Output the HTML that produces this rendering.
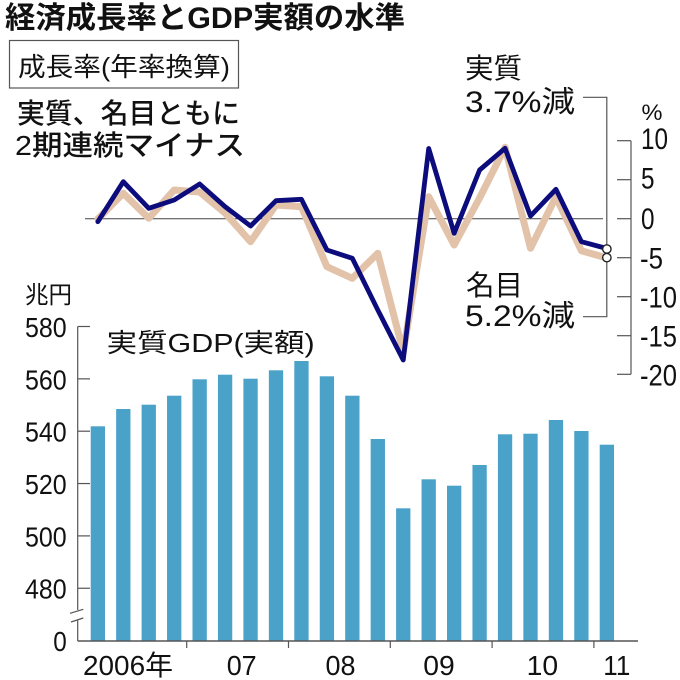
<!DOCTYPE html>
<html><head><meta charset="utf-8"><style>
html,body{margin:0;padding:0;background:#fff;}
svg{display:block;}
text{font-family:"Liberation Sans","Noto Sans CJK JP",sans-serif;fill:#111;}
</style></head><body>
<svg width="680" height="680" viewBox="0 0 680 680" xmlns="http://www.w3.org/2000/svg">
<rect width="680" height="680" fill="#fff"/>
<!-- Title -->
<text x="5" y="28" font-size="30" font-weight="bold" textLength="400" lengthAdjust="spacingAndGlyphs">経済成長率とGDP実額の水準</text>
<!-- box -->
<rect x="9.5" y="40.5" width="229" height="47.5" fill="none" stroke="#555" stroke-width="1.2"/>
<text x="18" y="76" font-size="26" fill="#222" textLength="212" lengthAdjust="spacingAndGlyphs">成長率(年率換算)</text>
<text x="17" y="123" font-size="28" font-weight="500" textLength="223" lengthAdjust="spacingAndGlyphs">実質、名目ともに</text>
<text x="15" y="155" font-size="28" font-weight="500" textLength="230" lengthAdjust="spacingAndGlyphs">2期連続マイナス</text>

<!-- right labels -->
<text x="465" y="78" font-size="28" textLength="57" lengthAdjust="spacingAndGlyphs">実質</text>
<text x="465" y="112" font-size="30" textLength="110" lengthAdjust="spacingAndGlyphs">3.7%減</text>
<text x="466" y="295" font-size="28" textLength="57" lengthAdjust="spacingAndGlyphs">名目</text>
<text x="465" y="326" font-size="30" textLength="110" lengthAdjust="spacingAndGlyphs">5.2%減</text>
<!-- bracket -->
<polyline points="583,97.3 606.8,97.3 606.8,316.7 583,316.7" fill="none" stroke="#555" stroke-width="1.2"/>

<!-- zero line -->
<line x1="85" y1="218.7" x2="603" y2="218.7" stroke="#444" stroke-width="1"/>

<!-- right axis -->
<g stroke="#555" stroke-width="1.2">
<line x1="631" y1="140.7" x2="631" y2="374.3"/>
<line x1="617" y1="140.7" x2="631" y2="140.7"/>
<line x1="617" y1="179.7" x2="631" y2="179.7"/>
<line x1="617" y1="218.7" x2="631" y2="218.7"/>
<line x1="617" y1="257.7" x2="631" y2="257.7"/>
<line x1="617" y1="296.7" x2="631" y2="296.7"/>
<line x1="617" y1="335.7" x2="631" y2="335.7"/>
<line x1="617" y1="374.3" x2="631" y2="374.3"/>
</g>
<text x="641.5" y="120" font-size="22" textLength="21" lengthAdjust="spacingAndGlyphs">%</text>
<g font-size="30">
<text x="641" y="149" textLength="27" lengthAdjust="spacingAndGlyphs">10</text>
<text x="641" y="188.5" textLength="13.5" lengthAdjust="spacingAndGlyphs">5</text>
<text x="641" y="229" textLength="13.5" lengthAdjust="spacingAndGlyphs">0</text>
<text x="640" y="268.5" textLength="23" lengthAdjust="spacingAndGlyphs">-5</text>
<text x="640" y="307.5" textLength="37" lengthAdjust="spacingAndGlyphs">-10</text>
<text x="640" y="346.5" textLength="37" lengthAdjust="spacingAndGlyphs">-15</text>
<text x="640" y="385.5" textLength="37" lengthAdjust="spacingAndGlyphs">-20</text>
</g>

<!-- lines -->
<polyline fill="none" stroke="#e2c3aa" stroke-width="7" stroke-linejoin="round" stroke-linecap="round"
points="97.85,219 123.3,193.3 148.75,218.3 174.2,190 199.65,192 225.1,213 250.55,241.7 276,205 301.45,206.7 326.9,266.7 352.35,278.3 377.8,253.3 403.25,352 428.7,196.7 454.15,245 479.6,198 505.05,147.3 530.5,248.3 555.95,196.7 581.4,250.7 606.85,258"/>
<polyline fill="none" stroke="#0c0c7c" stroke-width="4.8" stroke-linejoin="round" stroke-linecap="round"
points="97.85,221.7 123.3,181.7 148.75,208.3 174.2,200 199.65,184 225.1,206.7 250.55,226 276,200.7 301.45,199.3 326.9,250 352.35,258.3 377.8,310 403.25,360 428.7,148.5 454.15,233.3 479.6,170 505.05,148.3 530.5,216 555.95,189.3 581.4,241.7 606.85,248.5"/>
<circle cx="606.85" cy="249" r="4.2" fill="#fff" stroke="#222" stroke-width="1.4"/>
<circle cx="606.85" cy="257.6" r="4.2" fill="#fff" stroke="#222" stroke-width="1.4"/>

<!-- bar chart labels -->
<text x="25" y="303" font-size="24" textLength="47" lengthAdjust="spacingAndGlyphs">兆円</text>
<text x="106.7" y="352" font-size="26" fill="#222" textLength="208" lengthAdjust="spacingAndGlyphs">実質GDP(実額)</text>

<g font-size="28">
<text x="25" y="337" textLength="41.7" lengthAdjust="spacingAndGlyphs">580</text>
<text x="25" y="389.4" textLength="41.7" lengthAdjust="spacingAndGlyphs">560</text>
<text x="25" y="441.7" textLength="41.7" lengthAdjust="spacingAndGlyphs">540</text>
<text x="25" y="494" textLength="41.7" lengthAdjust="spacingAndGlyphs">520</text>
<text x="25" y="546.4" textLength="41.7" lengthAdjust="spacingAndGlyphs">500</text>
<text x="25" y="598.7" textLength="41.7" lengthAdjust="spacingAndGlyphs">480</text>
<text x="53.2" y="651" textLength="13.5" lengthAdjust="spacingAndGlyphs">0</text>
</g>

<!-- bars -->
<g fill="#4aa2c9">
<rect x="90.7" y="426.3" width="14.3" height="214.7"/>
<rect x="116.15" y="409" width="14.3" height="232"/>
<rect x="141.6" y="404.7" width="14.3" height="236.3"/>
<rect x="167.05" y="395.7" width="14.3" height="245.3"/>
<rect x="192.5" y="379.3" width="14.3" height="261.7"/>
<rect x="217.95" y="374.7" width="14.3" height="266.3"/>
<rect x="243.4" y="378.7" width="14.3" height="262.3"/>
<rect x="268.85" y="370.3" width="14.3" height="270.7"/>
<rect x="294.3" y="361" width="14.3" height="280"/>
<rect x="319.75" y="376.3" width="14.3" height="264.7"/>
<rect x="345.2" y="395.7" width="14.3" height="245.3"/>
<rect x="370.65" y="439" width="14.3" height="202"/>
<rect x="396.1" y="508.3" width="14.3" height="132.7"/>
<rect x="421.55" y="479.3" width="14.3" height="161.7"/>
<rect x="447" y="485.7" width="14.3" height="155.3"/>
<rect x="472.45" y="465" width="14.3" height="176"/>
<rect x="497.9" y="434.3" width="14.3" height="206.7"/>
<rect x="523.35" y="433.7" width="14.3" height="207.3"/>
<rect x="548.8" y="420" width="14.3" height="221"/>
<rect x="574.25" y="431" width="14.3" height="210"/>
<rect x="599.7" y="444.7" width="14.3" height="196.3"/>
</g>

<!-- left axis -->
<g stroke="#555" stroke-width="1.2" fill="none">
<line x1="77.7" y1="326.5" x2="77.7" y2="610"/>
<line x1="77.7" y1="620.5" x2="77.7" y2="641"/>
<line x1="77.7" y1="326.5" x2="90" y2="326.5"/>
<line x1="77.7" y1="378.85" x2="90" y2="378.85"/>
<line x1="77.7" y1="431.2" x2="90" y2="431.2"/>
<line x1="77.7" y1="483.55" x2="90" y2="483.55"/>
<line x1="77.7" y1="535.9" x2="90" y2="535.9"/>
<line x1="77.7" y1="588.25" x2="90" y2="588.25"/>
<line x1="70" y1="613.3" x2="83.3" y2="609.3"/>
<line x1="71" y1="622" x2="83.3" y2="618"/>
<line x1="77.7" y1="641" x2="638" y2="641" stroke-width="1.5"/>
<line x1="186.7" y1="641" x2="186.7" y2="648"/>
<line x1="288.5" y1="641" x2="288.5" y2="648"/>
<line x1="390.3" y1="641" x2="390.3" y2="648"/>
<line x1="492.1" y1="641" x2="492.1" y2="648"/>
<line x1="593.9" y1="641" x2="593.9" y2="648"/>
</g>

<!-- x labels -->
<g font-size="28">
<text x="83" y="675" textLength="90" lengthAdjust="spacingAndGlyphs">2006年</text>
<text x="226.7" y="675" textLength="30" lengthAdjust="spacingAndGlyphs">07</text>
<text x="325.5" y="675" textLength="30" lengthAdjust="spacingAndGlyphs">08</text>
<text x="423.3" y="675" textLength="31.5" lengthAdjust="spacingAndGlyphs">09</text>
<text x="526.7" y="675" textLength="31.5" lengthAdjust="spacingAndGlyphs">10</text>
<text x="603.3" y="675" textLength="27" lengthAdjust="spacingAndGlyphs">11</text>
</g>
</svg>
</body></html>
